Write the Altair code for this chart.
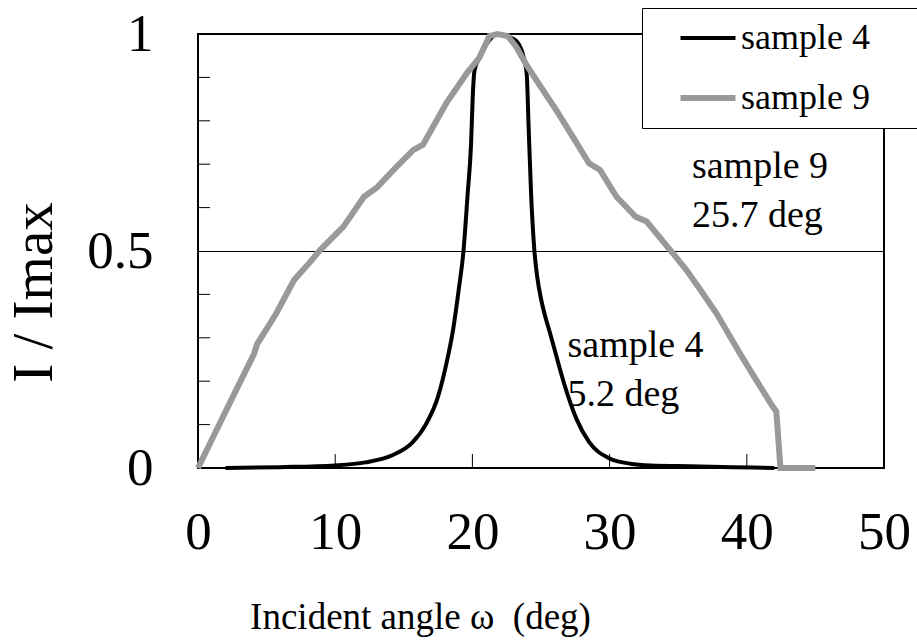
import altair as alt
import pandas as pd

FONT = "Liberation Serif"

# Normalised rocking curves, I/Imax versus incident angle (deg)
s4_angle = [2.0, 6.0, 10.0, 12.2, 14.2, 15.6, 16.6, 17.5, 18.1, 18.6, 19.0, 19.35,
            19.65, 19.9, 20.03, 20.15, 20.5, 21.0, 21.85, 22.5, 23.2, 23.8, 23.96,
            24.1, 24.28, 24.52, 24.75, 25.0, 25.3, 25.62, 26.0, 26.34, 26.95, 27.6,
            28.5, 30.0, 31.5, 33.0, 36.0, 39.0, 42.0]
s4_int = [0.0, 0.002, 0.006, 0.013, 0.03, 0.058, 0.1, 0.165, 0.24, 0.32, 0.41, 0.5,
          0.63, 0.745, 0.86, 0.915, 0.945, 0.975, 1.0, 0.995, 0.984, 0.938, 0.907,
          0.784, 0.63, 0.5, 0.435, 0.39, 0.35, 0.315, 0.272, 0.232, 0.168, 0.112,
          0.06, 0.022, 0.01, 0.006, 0.004, 0.002, 0.0]

s9_angle = [0.0, 2.3, 4.1, 4.3, 5.7, 7.0, 8.1, 8.9, 10.6, 12.1, 13.0, 14.5, 15.7,
            16.4, 18.1, 19.6, 20.5, 21.24, 21.85, 22.58, 23.2, 23.92, 24.9, 26.1,
            27.3, 28.5, 29.3, 30.5, 31.9, 32.7, 34.6, 35.6, 36.8, 37.8, 39.5, 40.7,
            41.9, 42.15, 42.2, 42.45, 45.0]
s9_int = [0.0, 0.149, 0.264, 0.285, 0.356, 0.433, 0.472, 0.502, 0.556, 0.625, 0.645,
          0.695, 0.733, 0.745, 0.841, 0.91, 0.945, 0.995, 1.0, 0.995, 0.97, 0.93,
          0.882, 0.825, 0.764, 0.702, 0.687, 0.625, 0.579, 0.568, 0.495, 0.456,
          0.402, 0.356, 0.264, 0.202, 0.141, 0.13, 0.11, 0.0, 0.0]

series_names = ["sample 4", "sample 9"]
series_colors = ["#000000", "#999999"]
series_widths = [4, 6]

# FWHM annotations (anchor = first-line baseline)
ann_angle = [36.0, 26.93]
ann_level = [0.668, 0.255]
ann_text = ["sample 9\n25.7 deg", "sample 4\n5.2 deg"]

x_ticks = [0, 10, 20, 30, 40, 50]
x_inner_ticks = [10, 20, 30, 40]
y_ticks = [0, 0.5, 1]
y_minor_ticks = [0.1, 0.2, 0.3, 0.4, 0.6, 0.7, 0.8, 0.9]

W, H = 686, 434

df4 = pd.DataFrame({"angle": s4_angle, "I": s4_int, "series": series_names[0]})
df9 = pd.DataFrame({"angle": s9_angle, "I": s9_int, "series": series_names[1]})
ann = pd.DataFrame({"angle": ann_angle, "I": ann_level, "text": ann_text})

x_scale = alt.Scale(domain=[0, 50], nice=False, zero=False)
y_scale = alt.Scale(domain=[0, 1], nice=False)

x_axis = alt.Axis(
    values=x_ticks, ticks=False, domain=False, grid=False,
    labelFont=FONT, labelFontSize=53, labelColor="black",
    labelBaseline="alphabetic", labelPadding=80, labelFlush=False,
    title="Incident angle ω\u00a0 (deg)", titleFont=FONT, titleFontSize=37,
    titleFontWeight="normal", titleColor="black",
    titleX=222, titleY=160, titleAnchor="middle", titleAlign="center",
    titleBaseline="alphabetic",
)
y_axis = alt.Axis(
    values=y_ticks, ticks=False, domain=False, format="~g",
    grid=True, gridColor="black", gridWidth=1, gridOpacity=1,
    labelFont=FONT, labelFontSize=53, labelColor="black",
    labelPadding=45, labelBaseline="middle", labelFlush=False,
    title="I / Imax", titleFont=FONT, titleFontSize=57,
    titleFontWeight="normal", titleColor="black",
    titleX=-164, titleY=258, titleAngle=270, titleAlign="center",
    titleBaseline="middle",
)

# legend line sample: a double-length horizontal stroke so the entry height
# follows the label font rather than the line length; a blank title on the
# right keeps the box open past the frame's right edge
legend = alt.Legend(
    orient="none", legendX=444, legendY=-26,
    title="\u00a0", titleOrient="right", titleFontSize=36, titlePadding=40,
    titleFont=FONT,
    strokeColor="black", fillColor="white", padding=12,
    symbolType="M-2,0H2", symbolSize=756, symbolOffset=36,
    labelFont=FONT, labelFontSize=36, labelColor="black", labelOffset=15,
    rowPadding=24, labelLimit=400,
)

color = alt.Color("series:N", scale=alt.Scale(domain=series_names, range=series_colors),
                  legend=legend)
width_enc = alt.StrokeWidth("series:N",
                            scale=alt.Scale(domain=series_names, range=series_widths),
                            legend=legend)


def curve(df, interp):
    return alt.Chart(df).mark_line(interpolate=interp, strokeCap="butt").encode(
        x=alt.X("angle:Q", scale=x_scale, axis=x_axis),
        y=alt.Y("I:Q", scale=y_scale, axis=y_axis),
        color=color,
        strokeWidth=width_enc,
    )


line4 = curve(df4, "monotone")
line9 = curve(df9, "linear")

# inward tick marks along the frame
xt = alt.Chart(pd.DataFrame({"angle": x_inner_ticks})).mark_rule(
    color="black", strokeWidth=1
).encode(x=alt.X("angle:Q", scale=x_scale), y=alt.value(H), y2=alt.value(H - 14))

yt = alt.Chart(pd.DataFrame({"I": y_minor_ticks})).mark_rule(
    color="black", strokeWidth=1
).encode(y=alt.Y("I:Q", scale=y_scale), x=alt.value(0), x2=alt.value(12))

labels = alt.Chart(ann).mark_text(
    font=FONT, fontSize=38, color="black", align="left", baseline="alphabetic",
    lineBreak="\n", lineHeight=49,
).encode(x=alt.X("angle:Q", scale=x_scale), y=alt.Y("I:Q", scale=y_scale),
         text="text:N")

chart = alt.layer(xt, yt, line4, line9, labels).properties(
    width=W, height=H,
    autosize=alt.AutoSizeParams(type="none"),
    padding={"left": 198, "top": 34, "right": 33, "bottom": 176},
    background="white",
).configure_view(stroke="black", strokeWidth=2)

chart.save("out.html", embed_options={"renderer": "svg", "actions": False})
